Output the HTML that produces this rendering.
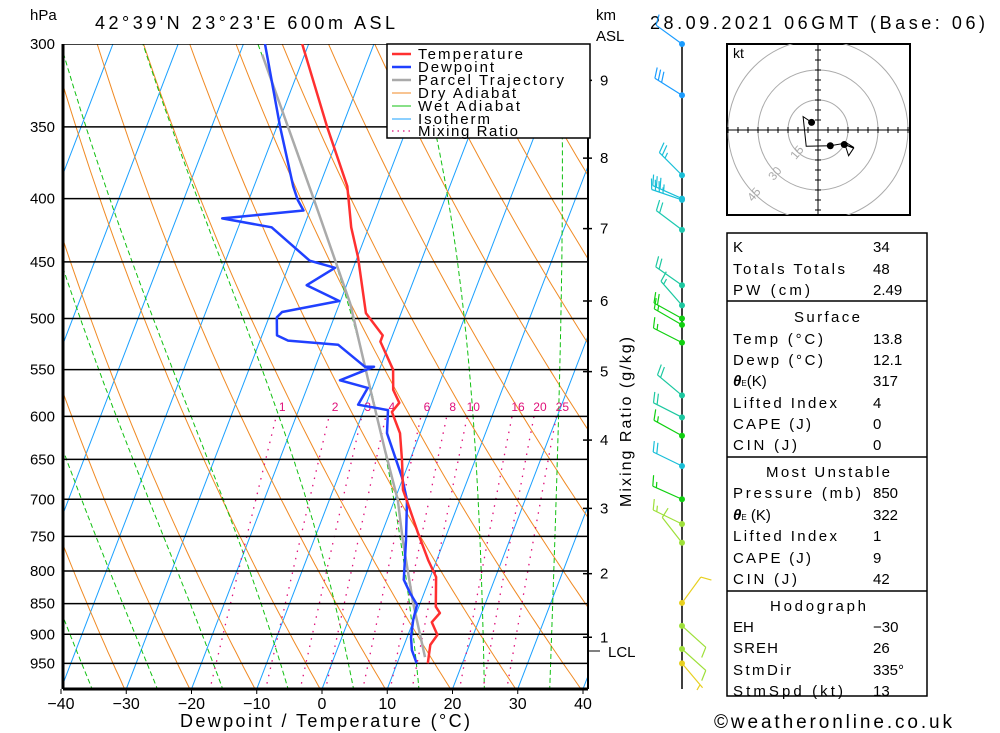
<!DOCTYPE html>
<html><head><meta charset="utf-8">
<style>
html,body{margin:0;padding:0;background:#fff;}
svg{display:block;font-family:"Liberation Sans",sans-serif;}
</style></head>
<body>
<svg id="chart" width="1000" height="733" viewBox="0 0 1000 733" xmlns="http://www.w3.org/2000/svg">
<defs><clipPath id="plotclip"><rect x="63" y="44" width="525" height="645"/></clipPath>
<clipPath id="hodoclip"><rect x="727" y="44" width="183" height="171"/></clipPath></defs>
<rect x="0" y="0" width="1000" height="733" fill="#fff"/>
<g id="grid" clip-path="url(#plotclip)"></g>
<g id="series" clip-path="url(#plotclip)"></g>
<g id="axes"></g>
<text x="30" y="20" font-size="15">hPa</text>
<text x="95" y="29" font-size="18" textLength="300" lengthAdjust="spacing">42°39'N 23°23'E 600m ASL</text>
<text x="596" y="20" font-size="15">km</text>
<text x="596" y="41" font-size="15">ASL</text>
<text x="650" y="29" font-size="18" textLength="335" lengthAdjust="spacing">28.09.2021 06GMT (Base: 06)</text>
<text x="325" y="727" font-size="18" text-anchor="middle" textLength="290" lengthAdjust="spacing">Dewpoint / Temperature (°C)</text>
<text x="714" y="728" font-size="19" textLength="238" lengthAdjust="spacing">©weatheronline.co.uk</text>
<text transform="translate(631,422) rotate(-90)" font-size="16" text-anchor="middle" textLength="170" lengthAdjust="spacing">Mixing Ratio (g/kg)</text>
<g id="winds"></g>
<g>
<rect x="387" y="44" width="203" height="94" fill="#fff" stroke="#000" stroke-width="1.5"/>
<g font-size="15">
<line x1="392" y1="54" x2="411" y2="54" stroke="#ff3030" stroke-width="2.5"/>
<text x="418" y="59" textLength="105" lengthAdjust="spacing">Temperature</text>
<line x1="392" y1="67" x2="411" y2="67" stroke="#2040ff" stroke-width="2.5"/>
<text x="418" y="72" textLength="76" lengthAdjust="spacing">Dewpoint</text>
<line x1="392" y1="80" x2="411" y2="80" stroke="#aaa" stroke-width="2.5"/>
<text x="418" y="85" textLength="146" lengthAdjust="spacing">Parcel Trajectory</text>
<line x1="392" y1="93" x2="411" y2="93" stroke="#f08a24" stroke-width="1"/>
<text x="418" y="98" textLength="98" lengthAdjust="spacing">Dry Adiabat</text>
<line x1="392" y1="106" x2="411" y2="106" stroke="#10c010" stroke-width="1"/>
<text x="418" y="111" textLength="102" lengthAdjust="spacing">Wet Adiabat</text>
<line x1="392" y1="119" x2="411" y2="119" stroke="#1aa0ff" stroke-width="1"/>
<text x="418" y="124" textLength="72" lengthAdjust="spacing">Isotherm</text>
<line x1="392" y1="131" x2="411" y2="131" stroke="#e0107a" stroke-width="1.2" stroke-dasharray="1.5 4"/>
<text x="418" y="136" textLength="100" lengthAdjust="spacing">Mixing Ratio</text>
</g></g>
<g id="hodo">
<rect x="727" y="44" width="183" height="171" fill="#fff" stroke="#000" stroke-width="2"/>
<g clip-path="url(#hodoclip)">
<circle cx="818" cy="130" r="30" fill="none" stroke="#aaa"/>
<circle cx="818" cy="130" r="60" fill="none" stroke="#aaa"/>
<circle cx="818" cy="130" r="90" fill="none" stroke="#aaa"/>
<line x1="727" y1="130" x2="910" y2="130" stroke="#000"/>
<line x1="818" y1="44" x2="818" y2="215" stroke="#000"/>
<g id="hodoticks"></g>
</g>
<text x="733" y="58" font-size="14">kt</text>
<text transform="translate(800,155) rotate(-50)" font-size="12" fill="#aaa" text-anchor="middle">15</text>
<text transform="translate(778,176) rotate(-50)" font-size="12" fill="#aaa" text-anchor="middle">30</text>
<text transform="translate(757,197) rotate(-50)" font-size="12" fill="#aaa" text-anchor="middle">45</text>
</g>
<g font-size="15">
<rect x="727" y="233" width="200" height="463" fill="none" stroke="#000" stroke-width="1.5"/>
<line x1="727" y1="301" x2="927" y2="301" stroke="#000" stroke-width="1.5"/>
<line x1="727" y1="457" x2="927" y2="457" stroke="#000" stroke-width="1.5"/>
<line x1="727" y1="591" x2="927" y2="591" stroke="#000" stroke-width="1.5"/>
<g>
<text x="733" y="252">K</text>
<text x="733" y="274" textLength="112" lengthAdjust="spacing">Totals Totals</text>
<text x="733" y="295" textLength="77" lengthAdjust="spacing">PW (cm)</text>
<text x="827" y="322" text-anchor="middle" textLength="66" lengthAdjust="spacing">Surface</text>
<text x="733" y="344" textLength="90" lengthAdjust="spacing">Temp (°C)</text>
<text x="733" y="365" textLength="90" lengthAdjust="spacing">Dewp (°C)</text>
<text x="733" y="386"><tspan font-weight="bold" font-style="italic">θ</tspan><tspan font-size="8">E</tspan>(K)</text>
<text x="733" y="408" textLength="104" lengthAdjust="spacing">Lifted Index</text>
<text x="733" y="429" textLength="78" lengthAdjust="spacing">CAPE (J)</text>
<text x="733" y="450" textLength="64" lengthAdjust="spacing">CIN (J)</text>
<text x="828" y="477" text-anchor="middle" textLength="124" lengthAdjust="spacing">Most Unstable</text>
<text x="733" y="498" textLength="128" lengthAdjust="spacing">Pressure (mb)</text>
<text x="733" y="520"><tspan font-weight="bold" font-style="italic">θ</tspan><tspan font-size="8">E</tspan> (K)</text>
<text x="733" y="541" textLength="104" lengthAdjust="spacing">Lifted Index</text>
<text x="733" y="563" textLength="78" lengthAdjust="spacing">CAPE (J)</text>
<text x="733" y="584" textLength="64" lengthAdjust="spacing">CIN (J)</text>
<text x="818" y="611" text-anchor="middle" textLength="96" lengthAdjust="spacing">Hodograph</text>
<text x="733" y="632">EH</text>
<text x="733" y="653" textLength="45" lengthAdjust="spacing">SREH</text>
<text x="733" y="675" textLength="58" lengthAdjust="spacing">StmDir</text>
<text x="733" y="696" textLength="110" lengthAdjust="spacing">StmSpd (kt)</text>
</g>
<g>
<text x="873" y="252">34</text><text x="873" y="274">48</text><text x="873" y="295">2.49</text>
<text x="873" y="344">13.8</text><text x="873" y="365">12.1</text><text x="873" y="386">317</text>
<text x="873" y="408">4</text><text x="873" y="429">0</text><text x="873" y="450">0</text>
<text x="873" y="498">850</text><text x="873" y="520">322</text><text x="873" y="541">1</text>
<text x="873" y="563">9</text><text x="873" y="584">42</text>
<text x="873" y="632">−30</text><text x="873" y="653">26</text><text x="873" y="675">335°</text><text x="873" y="696">13</text>
</g>
</g>
</svg>
<script>
// ---- data ----
const tempP=[300,350,391,400,422,446,495,516,522,550,571,585,595,619,651,688,705,745,784,809,855,865,880,901,918,950];
const tempT=[-41,-32.3,-25.7,-24.8,-22.7,-19.9,-15.4,-11.5,-11.5,-7.9,-6.7,-5.0,-5.6,-3.1,-1.2,0.7,2.2,5.5,8.7,10.9,12.6,13.6,12.9,14.5,14.0,14.7];
const dewP=[300,350,391,401,409,415,422,449,455,470,484,494,499,516,521,525,547,547,561,569,587,593,619,672,701,755,813,833,852,876,905,927,950];
const dewT=[-46.7,-39.5,-34.0,-32.5,-31.0,-43.0,-34.9,-27.1,-22.8,-26.1,-20.2,-28.3,-28.8,-27.7,-25.7,-17.8,-12.4,-11.0,-15.4,-10.7,-11.2,-6.3,-5.1,-0.2,1.9,4.1,6.1,7.8,9.6,9.9,10.6,11.5,13.0];
const parcelP=[306,399,486,582,639,701,755,849,939];
const parcelT=[-46.5,-30.3,-18.4,-9.2,-4.4,0.5,3.6,8.9,13.9];
const windP=[300,330,383,400,401,424,470,488,500,506,523,577,601,622,658,700,733,759,849,886,925,950];
const windDir=[306,302,315,294,289,307,305,319,299,300,297,310,297,299,296,294,296,322,36,132,132,140];
const windSpd=[10,30,25,35,35,20,20,15,20,15,15,20,20,15,20,15,15,10,10,10,10,5];
const windColor=['#1a9cff','#1a9cff','#19bfd8','#19bfd8','#19bfd8','#1cc8b0','#1cc8a0','#1cc8a0','#10d010','#10d010','#10d010','#1cc8a0','#1cc8a0','#10d010','#19bfd8','#10d010','#9ee03a','#9ee03a','#e8d020','#9ee03a','#9ee03a','#e8d020'];
const pressureTicks=[300,350,400,450,500,550,600,650,700,750,800,850,900,950];
const tempTicks=[-40,-30,-20,-10,0,10,20,30,40];
const kmLabels=['9','8','7','6','5','4','3','2','1'];
const kmP=[321,371,423,484,552,627,712,804,905];
const mixRatios=[1,2,3,4,6,8,10,16,20,25];
const dryTheta=[-60,-50,-40,-30,-20,-10,0,10,20,30,40,50,60,70,80,90,100,110,120,130,140,150,160,170,180];
const wetTheta=[-45,-35,-25,-15,-5,5,15,25,35];
const isoT=[-130,-120,-110,-100,-90,-80,-70,-60,-50,-40,-30,-20,-10,0,10,20,30,40];

// ---- scales ----
const NS='http://www.w3.org/2000/svg';
function yP(p){return 44+537.3*Math.log(p/300);}
function xT(T,p){return 322+6.525*T+0.384*(689-yP(p));}
function mk(tag,parent){const e=document.createElementNS(NS,tag);parent.appendChild(e);return e;}
function pathTP(Ts,Ps){let d='';for(let i=0;i<Ts.length;i++){d+=(i?'L':'M')+xT(Ts[i],Ps[i]).toFixed(1)+' '+yP(Ps[i]).toFixed(1)+' ';}return d;}
const grid=document.getElementById('grid'), series=document.getElementById('series'), axes=document.getElementById('axes');

isoT.forEach(T=>{const l=mk('line',grid);


l.setAttribute('x1',xT(T,1000));l.setAttribute('y1',yP(1000));l.setAttribute('x2',xT(T,280));l.setAttribute('y2',yP(280));
l.setAttribute('stroke','#1aa0ff');l.setAttribute('stroke-width','1');});

dryTheta.forEach(t0=>{const th=t0+273.15;const Ts=[],Ps=[];for(let p=1010;p>=280;p-=10){Ps.push(p);Ts.push(th*Math.pow(p/1000,0.2857)-273.15);}
const e=mk('path',grid);


e.setAttribute('d',pathTP(Ts,Ps));e.setAttribute('fill','none');e.setAttribute('stroke','#f08a24');e.setAttribute('stroke-width','1');});

function esat(Tc){return 6.112*Math.exp(17.67*Tc/(Tc+243.5));}
wetTheta.forEach(t0=>{let T=t0+273.15;
 const Ts2=[t0],Ps2=[1000];
 for(let pp=1000;pp>280;pp-=2){const Tc=T-273.15;const es=esat(Tc);const rs=0.622*es/(pp-es);
  const dTdp=(287.04*T+2.501e6*rs)/(1005.7+2.501e6*2.501e6*rs*0.622/(287.04*T*T))/pp;
  T-=dTdp*2;Ts2.push(T-273.15);Ps2.push(pp-2);}
 const e=mk('path',grid);
 
 
 e.setAttribute('d',pathTP(Ts2,Ps2));e.setAttribute('fill','none');e.setAttribute('stroke','#10c010');e.setAttribute('stroke-width','1');e.setAttribute('stroke-dasharray','5 3');});

mixRatios.forEach(w=>{const Ts=[],Ps=[];for(let p=1000;p>=600;p-=10){const e=w*p/(622+w);const L=Math.log(e/6.112);Ts.push(243.5*L/(17.67-L));Ps.push(p);}
 const e=mk('path',grid);
 
 
 e.setAttribute('d',pathTP(Ts,Ps));e.setAttribute('fill','none');e.setAttribute('stroke','#e0107a');e.setAttribute('stroke-width','1.3');e.setAttribute('stroke-dasharray','1.5 6');
 const t=mk('text',grid);
 
 
 t.setAttribute('x',xT(Ts[Ts.length-1],600)+6);t.setAttribute('y',411);t.setAttribute('font-size','12');t.setAttribute('fill','#e0107a');t.setAttribute('text-anchor','middle');t.textContent=w;});

pressureTicks.forEach(p=>{const l=mk('line',grid);
 
 
 l.setAttribute('x1',63);l.setAttribute('x2',588);l.setAttribute('y1',yP(p));l.setAttribute('y2',yP(p));l.setAttribute('stroke','#000');l.setAttribute('stroke-width','1.5');
 const t=mk('text',axes);
 
 
 t.setAttribute('x',55);t.setAttribute('y',yP(p)+5);t.setAttribute('font-size','15');t.setAttribute('text-anchor','end');t.textContent=p;});

[[parcelT,parcelP,'#aaaaaa','parcel-trajectory-line'],[dewT,dewP,'#2040ff','dewpoint-line'],[tempT,tempP,'#ff3030','temperature-line']].forEach(s=>{
 const e=mk('path',series);
 
 
 e.setAttribute('d',pathTP(s[0],s[1]));e.setAttribute('fill','none');e.setAttribute('stroke',s[2]);e.setAttribute('stroke-width','2.5');e.setAttribute('stroke-linejoin','round');});

[[63,44,63,689,3,'y-axis-line'],[63,689,588,689,3,'x-axis-line'],[588,44,588,689,2,'km-axis-line']].forEach(a=>{const l=mk('line',axes);
 
 
 l.setAttribute('x1',a[0]);l.setAttribute('y1',a[1]);l.setAttribute('x2',a[2]);l.setAttribute('y2',a[3]);l.setAttribute('stroke','#000');l.setAttribute('stroke-width',a[4]);});
tempTicks.forEach(T=>{const t=mk('text',axes);
 
 
 const x=322+6.525*T;t.setAttribute('x',x);t.setAttribute('y',709);t.setAttribute('font-size','16');t.setAttribute('text-anchor','middle');t.textContent=(T<0?'−':'')+Math.abs(T);
 const l=mk('line',axes);
 
 
 l.setAttribute('x1',x);l.setAttribute('x2',x);l.setAttribute('y1',689);l.setAttribute('y2',694);l.setAttribute('stroke','#000');});
kmLabels.forEach((k,i)=>{const y=yP(kmP[i]);const t=mk('text',axes);
 
 
 t.setAttribute('x',600);t.setAttribute('y',y+5);t.setAttribute('font-size','15');t.textContent=k;
 const l=mk('line',axes);
 
 
 l.setAttribute('x1',583);l.setAttribute('x2',592);l.setAttribute('y1',y);l.setAttribute('y2',y);l.setAttribute('stroke','#000');l.setAttribute('stroke-width','1.5');});
{const l=mk('line',axes);
 
 
 l.setAttribute('x1',588);l.setAttribute('x2',600);l.setAttribute('y1',651);l.setAttribute('y2',651);l.setAttribute('stroke','#000');
 const t=mk('text',axes);
 
 
 t.setAttribute('x',608);t.setAttribute('y',657);t.setAttribute('font-size','15');t.textContent='LCL';}

const winds=document.getElementById('winds');
{const l=mk('line',winds);
 
 
 l.setAttribute('x1',682);l.setAttribute('x2',682);l.setAttribute('y1',44);l.setAttribute('y2',689);l.setAttribute('stroke','#000');l.setAttribute('stroke-width','1.5');}
windP.forEach((p,i)=>{const x=682,y=yP(p),d=windDir[i]*Math.PI/180,L=32,c=windColor[i];
 const g=mk('g',winds);
 
 
 const sx=Math.sin(d),sy=-Math.cos(d);
 let dd='M'+x+' '+y+'L'+(x+L*sx).toFixed(1)+' '+(y+L*sy).toFixed(1);
 const fd=d+70*Math.PI/180,fx=Math.sin(fd),fy=-Math.cos(fd);
 let s=windSpd[i],k=0;
 while(s>=10){const px=x+(L-k*4)*sx,py=y+(L-k*4)*sy;dd+='M'+px.toFixed(1)+' '+py.toFixed(1)+'l'+(11*fx).toFixed(1)+' '+(11*fy).toFixed(1);s-=10;k++;}
 if(s>=5){const kk=k===0?1:k;const px=x+(L-kk*4)*sx,py=y+(L-kk*4)*sy;dd+='M'+px.toFixed(1)+' '+py.toFixed(1)+'l'+(6*fx).toFixed(1)+' '+(6*fy).toFixed(1);}
 const e=mk('path',g);e.setAttribute('d',dd);e.setAttribute('stroke',c);e.setAttribute('stroke-width','1.2');e.setAttribute('fill','none');
 const ci=mk('circle',g);ci.setAttribute('cx',x);ci.setAttribute('cy',y);ci.setAttribute('r',3);ci.setAttribute('fill',c);});

const hodo=document.getElementById('hodoticks');
for(let k=-9;k<=9;k++){if(!k)continue;const a=mk('line',hodo);
 
 
 a.setAttribute('x1',818+k*10);a.setAttribute('x2',818+k*10);a.setAttribute('y1',127);a.setAttribute('y2',133);a.setAttribute('stroke','#000');
 const b=mk('line',hodo);
 
 
 b.setAttribute('y1',130+k*10);b.setAttribute('y2',130+k*10);b.setAttribute('x1',815);b.setAttribute('x2',821);b.setAttribute('stroke','#000');}
{let d='';const pts=[];for(let i=windP.length-1;i>=10;i--){const r=windDir[i]*Math.PI/180;const u=-windSpd[i]*Math.sin(r),v=-windSpd[i]*Math.cos(r);pts.push([818+2*u,130-2*v]);}
 pts.forEach((q,j)=>{d+=(j?'L':'M')+q[0].toFixed(1)+' '+q[1].toFixed(1);});
 const e=mk('path',hodo);
 
 
 e.setAttribute('d',d);e.setAttribute('fill','none');e.setAttribute('stroke','#000');e.setAttribute('stroke-width','1');
 [0,4,8].forEach(j=>{if(!pts[j])return;const c=mk('circle',hodo);
  
  
  c.setAttribute('cx',pts[j][0]);c.setAttribute('cy',pts[j][1]);c.setAttribute('r',3.5);c.setAttribute('fill','#000');});}
</script>
</body></html>
